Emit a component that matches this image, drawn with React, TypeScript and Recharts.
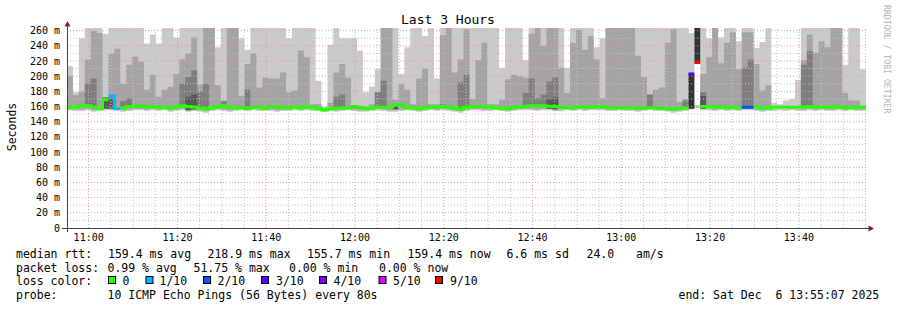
import React from "react";
import { ComposedChart, Area, Line, XAxis, YAxis, ReferenceLine } from "recharts";

const MONO = '"DejaVu Sans Mono", monospace';
const STEP = 80; // seconds per smokeping step
const SPAN = 10800; // 3 hours, window starts 10:55:07

// x-axis labels (seconds after window start)
const timeLabels = ["11:00", "11:20", "11:40", "12:00", "12:20", "12:40", "13:00", "13:20", "13:40"];
const timeTicks = [293, 1493, 2693, 3893, 5093, 6293, 7493, 8693, 9893];
const yTicks = [0, 20, 40, 60, 80, 100, 120, 140, 160, 180, 200, 220, 240, 260];

// smoke: slowest ping (top of light band), values in ms; 270 = clipped at top
const pingMax = [
  213, 179, 250, 270, 270, 270, 256, 270, 270, 270,
  270, 270, 270, 243, 255, 243, 270, 270, 251, 270,
  270, 270, 270, 270, 270, 238, 270, 270, 270, 250,
  235, 270, 270, 270, 270, 270, 270, 250, 270, 270,
  270, 270, 194, 160, 241, 270, 250, 250, 250, 234,
  179, 186, 209, 270, 270, 270, 203, 238, 270, 270,
  253, 270, 197, 270, 270, 270, 270, 270, 270, 270,
  270, 270, 270, 211, 270, 270, 270, 221, 270, 270,
  270, 270, 270, 270, 211, 270, 270, 270, 270, 238,
  250, 270, 270, 270, 270, 270, 270, 270, 270, 270,
  270, 270, 270, 270, 270, 257, 162, 270, 250, 270,
  251, 270, 270, 246, 270, 270, 237, 245, 270, 165,
  163, 168, 170, 195, 270, 270, 270, 270, 270, 270,
  270, 215, 270, 270, 209,
];

// second slowest ping (top of medium band)
const pingHigh = [
  200, 175, 180, 222, 260, 257, 172, 230, 236, 190,
  215, 226, 219, 182, 202, 173, 182, 186, 203, 222,
  230, 251, 189, 270, 270, 188, 168, 270, 270, 174,
  216, 230, 185, 198, 197, 197, 205, 179, 181, 234,
  225, 163, 163, null, 165, 205, 216, 198, 160, 160,
  160, 163, 179, 270, 270, 169, 190, 182, 163, 197,
  210, 163, 163, 254, 270, 205, 222, 262, 170, 221,
  244, 163, 163, 169, 196, 202, 200, 198, 256, 270,
  240, 270, 270, 211, 178, 244, 261, 235, 253, 222,
  171, 270, 270, 270, 270, 270, 227, 199, 176, 182,
  185, 244, 262, 166, 170, null, null, 203, 225, 270,
  217, 244, 258, 209, 258, 258, 216, 181, 188, null,
  null, null, null, null, 221, 255, 231, 246, 238, 270,
  270, 178, 168, 168, 160,
];

// fastest ping (bottom of light band)
const pingLow = [
  155, 154, 154, 155, 153, 154, 155, 155, 155, 153,
  154, 155, 155, 154, 155, 154, 155, 153, 154, 155,
  153, 154, 153, 152, 154, 155, 154, 153, 154, 155,
  154, 155, 154, 155, 154, 153, 154, 154, 155, 154,
  155, 154, 154, 153, 154, 153, 154, 155, 154, 153,
  153, 154, 155, 154, 153, 153, 154, 155, 154, 153,
  154, 155, 154, 155, 154, 153, 152, 154, 155, 155,
  154, 154, 155, 154, 153, 154, 155, 155, 155, 154,
  155, 155, 154, 154, 155, 154, 155, 154, 155, 155,
  155, 154, 154, 155, 154, 154, 153, 154, 155, 154,
  154, 153, 152, 153, 154, 156, 158, 155, 155, 154,
  155, 154, 155, 154, 155, 155, 154, 153, 154, 154,
  155, 154, 155, 154, 154, 155, 154, 155, 154, 154,
  155, 154, 155, 154, 154,
];

// second fastest ping (bottom of medium band)
const pingLow2 = [
  156, 156, 156, 157, 155, 156, 157, 157, 156, 155,
  156, 157, 157, 156, 157, 156, 157, 155, 156, 157,
  155, 156, 155, 154, 156, 157, 156, 155, 156, 157,
  156, 157, 156, 157, 156, 155, 156, 156, 157, 156,
  157, 156, 156, 155, 156, 155, 156, 157, 156, 155,
  155, 156, 157, 156, 155, 156, 156, 157, 156, 155,
  156, 157, 156, 157, 156, 155, 154, 156, 157, 157,
  156, 156, 157, 156, 155, 156, 157, 157, 157, 156,
  157, 157, 156, 156, 157, 156, 157, 156, 157, 157,
  157, 156, 156, 157, 156, 156, 155, 156, 157, 156,
  156, 155, 154, 155, 156, 157, 159, 157, 157, 156,
  157, 156, 157, 156, 157, 157, 156, 155, 156, 156,
  157, 156, 157, 156, 156, 157, 156, 157, 156, 156,
  157, 156, 157, 156, 156,
];

// median rtt per step
const median = [
  159, 159, 161, 161, 159, 157.5, 169, 174, 157, 158,
  160, 160, 161, 160, 160, 159, 158.5, 158, 159, 161,
  160, 159.5, 158, 157, 158, 160, 161, 159, 158, 158.5,
  157.5, 159, 159, 157, 160, 160, 158, 158, 159, 158,
  160, 159, 157, 155.5, 157, 158, 158, 158, 160, 159,
  157, 158, 159, 159, 159, 162, 162, 158, 159, 157,
  158, 159, 159, 160, 159, 158, 156.5, 159, 160, 160.5,
  160.5, 159, 158, 157.5, 157, 159, 159, 160.5, 161, 161,
  161, 160.5, 160, 159, 158.5, 158, 159.5, 159.5, 159, 160,
  159.5, 158.5, 158, 158, 158, 158, 158, 158, 158.5, 158.5,
  157.5, 157, 156.5, 157.5, 158, 203, 218, 160, 160, 159.5,
  159, 159, 158.5, 158, 159, 159, 159.5, 158, 158, 159,
  159, 159, 159, 159, 159.5, 160, 159, 159, 159.5, 159.5,
  159.5, 158.5, 158.5, 159, 159.5,
];

// [step, ms] third slowest ping where it shows above the median
const darkTops = [
  [3, 190], [4, 197], [9, 167], [10, 171], [19, 190], [20, 199], [21, 208], [22, 180],
  [23, 190], [26, 167], [30, 182], [45, 173], [46, 176], [52, 179], [53, 194], [63, 163],
  [66, 192], [67, 202], [77, 178], [78, 197], [79, 171], [80, 176], [81, 193], [82, 199],
  [98, 176], [104, 168], [107, 179], [114, 211], [115, 222], [124, 215], [125, 233],
];
// [step, ms] fourth slowest ping
const coreTops = [[6, 172], [7, 172], [20, 173], [21, 176], [55, 163], [81, 170], [82, 172], [107, 174]];
// [step, low, high] innermost band on lossy steps
const blackBands = [[105, 157, 203], [106, 218, 270]];
// [step, lost pings out of 10]
const lossSteps = [[7, 1], [8, 1], [105, 3], [106, 9], [114, 2], [115, 2]];

const lossLevels = [0, 1, 2, 3, 4, 5, 9];
const lossNames = ["0", "1/10", "2/10", "3/10", "4/10", "5/10", "9/10"];
const lossColors = ["#26ff00", "#00b8ff", "#0059ff", "#5e00ff", "#7e00ff", "#dd00ff", "#ff0000"];

const lookup = (list: number[][], i: number) => list.find((e) => e[0] === i);

const rows: any[] = [];
pingMax.forEach((hi, i) => {
  const m = median[i];
  const dk = lookup(darkTops, i);
  const cr = lookup(coreTops, i);
  const bk = lookup(blackBands, i);
  const ls = lookup(lossSteps, i);
  const loss = ls ? ls[1] : 0;
  const r: any = {
    light: [pingLow[i], hi],
    mid: pingHigh[i] == null ? [m, m] : [pingLow2[i], pingHigh[i]],
    dark: dk ? [m, dk[1]] : [m, m],
    core: cr ? [pingLow2[i], cr[1]] : [m, m],
    black: bk ? [bk[1], bk[2]] : [m, m],
  };
  lossLevels.forEach((l) => {
    r["med" + l] = loss === l ? m : null;
  });
  rows.push({ t: i * STEP, ...r }, { t: (i + 1) * STEP, ...r });
});

const minorY = [10, 30, 50, 70, 90, 110, 130, 150, 170, 190, 210, 230, 250];
const majorY = [20, 40, 60, 80, 100, 120, 140, 160, 180, 200, 220, 240, 260];
const minorX: number[] = [];
for (let s = 293; s < SPAN; s += 300) if (!timeTicks.includes(s)) minorX.push(s);

const legendRtt: [string, number][] = [
  ["median rtt:", 16], ["159.4 ms avg", 108], ["218.9 ms max", 207.5], ["155.7 ms min", 307],
  ["159.4 ms now", 407.5], ["6.6 ms sd", 506.5], ["24.0", 586.5], ["am/s", 636],
];
const legendLoss: [string, number][] = [
  ["packet loss:", 16], ["0.99 % avg", 107.5], ["51.75 % max", 193.5], ["0.00 % min", 289], ["0.00 % now", 379],
];
const swatchX = [108.5, 146, 203.5, 261.5, 319.5, 379, 435.5];
const swatchTextX = [122.5, 159.5, 217.5, 276, 333.5, 393, 450];

export default function App() {
  const lbl = (v: number) => timeLabels[timeTicks.indexOf(v)] ?? "";
  return (
    <div style={{ position: "absolute", left: 0, top: 0, width: 897, height: 310, background: "#fff", fontFamily: MONO }}>
      <ComposedChart width={897} height={310} data={rows} margin={{ top: 28, right: 31, bottom: 0, left: 0 }}>
        <XAxis
          type="number"
          dataKey="t"
          domain={[0, SPAN]}
          ticks={timeTicks}
          interval={0}
          tickFormatter={lbl}
          axisLine={false}
          tickLine={false}
          tickSize={4}
          tickMargin={2}
          height={82}
          allowDataOverflow
          tick={{ fontSize: 10, fill: "#000", fontFamily: MONO }}
        />
        <YAxis
          type="number"
          domain={[0, 263.5]}
          ticks={yTicks}
          interval={0}
          tickFormatter={(v: number) => (v === 0 ? "0" : `${v} m`)}
          axisLine={false}
          tickLine={false}
          tickSize={5}
          tickMargin={2}
          width={67}
          allowDataOverflow
          tick={{ fontSize: 10, fill: "#000", fontFamily: MONO }}
        />
        <Area type="linear" dataKey="light" fill="#cacaca" fillOpacity={1} stroke="none" isAnimationActive={false} />
        <Area type="linear" dataKey="mid" fill="#a4a4a4" fillOpacity={1} stroke="none" isAnimationActive={false} />
        <Area type="linear" dataKey="dark" fill="#7e7e7e" fillOpacity={1} stroke="none" isAnimationActive={false} />
        <Area type="linear" dataKey="core" fill="#585858" fillOpacity={1} stroke="none" isAnimationActive={false} />
        <Area type="linear" dataKey="black" fill="#323232" fillOpacity={1} stroke="none" isAnimationActive={false} />
        {minorY.map((v) => (
          <ReferenceLine key={"my" + v} y={v} stroke="#c4c4c4" strokeDasharray="1 2" />
        ))}
        {minorX.map((v) => (
          <ReferenceLine key={"mx" + v} x={v} stroke="#c4c4c4" strokeDasharray="1 2" />
        ))}
        {majorY.map((v) => (
          <ReferenceLine key={"My" + v} y={v} stroke="#e59a9a" strokeDasharray="1 2" />
        ))}
        {timeTicks.map((v) => (
          <ReferenceLine key={"Mx" + v} x={v} stroke="#e59a9a" strokeDasharray="1 2" />
        ))}
        {lossLevels.map((l, k) => (
          <Line
            key={"med" + l}
            type="linear"
            dataKey={"med" + l}
            stroke={lossColors[k]}
            strokeWidth={3}
            dot={false}
            activeDot={false}
            connectNulls={false}
            isAnimationActive={false}
          />
        ))}
      </ComposedChart>
      <svg width={897} height={310} style={{ position: "absolute", left: 0, top: 0, pointerEvents: "none" }}>
        <line x1={62} y1={228.5} x2={869} y2={228.5} stroke="#444" strokeWidth={1} />
        <line x1={67.5} y1={232} x2={67.5} y2={26} stroke="#444" strokeWidth={1} />
        <polygon points="64.5,26.5 70.5,26.5 67.5,21" fill="#8b2020" />
        <polygon points="868.5,225.5 868.5,231.5 874,228.5" fill="#8b2020" />
        <text x={448} y={23.5} textAnchor="middle" fontSize={13} fontFamily={MONO} fill="#000">
          Last 3 Hours
        </text>
        <text x={15.5} y={127} textAnchor="middle" fontSize={11.5} fontFamily={MONO} fill="#000" transform="rotate(-90 15.5 127)">
          Seconds
        </text>
        <text x={884} y={5} fontSize={8.2} fontFamily={MONO} fill="#b4b4b4" transform="rotate(90 884 5)">
          RRDTOOL / TOBI OETIKER
        </text>
        {legendRtt.map(([s, x]) => (
          <text key={s + x} x={x} y={258} fontSize={11.5} fontFamily={MONO} fill="#000">{s}</text>
        ))}
        {legendLoss.map(([s, x]) => (
          <text key={s + x} x={x} y={271.5} fontSize={11.5} fontFamily={MONO} fill="#000">{s}</text>
        ))}
        <text x={16} y={285} fontSize={11.5} fontFamily={MONO} fill="#000">loss color:</text>
        {lossNames.map((n, k) => (
          <g key={n}>
            <rect x={swatchX[k]} y={276.5} width={7} height={7} fill={lossColors[k]} stroke="#000" strokeWidth={1} />
            <text x={swatchTextX[k]} y={285} fontSize={11.5} fontFamily={MONO} fill="#000">{n}</text>
          </g>
        ))}
        <text x={16} y={298.5} fontSize={11.5} fontFamily={MONO} fill="#000">probe:</text>
        <text x={107.5} y={298.5} fontSize={11.5} fontFamily={MONO} fill="#000" style={{ whiteSpace: "pre" }}>
          10 ICMP Echo Pings (56 Bytes) every 80s
        </text>
        <text x={678.5} y={298.5} fontSize={11.5} fontFamily={MONO} fill="#000" style={{ whiteSpace: "pre" }}>
          end: Sat Dec  6 13:55:07 2025
        </text>
      </svg>
    </div>
  );
}
